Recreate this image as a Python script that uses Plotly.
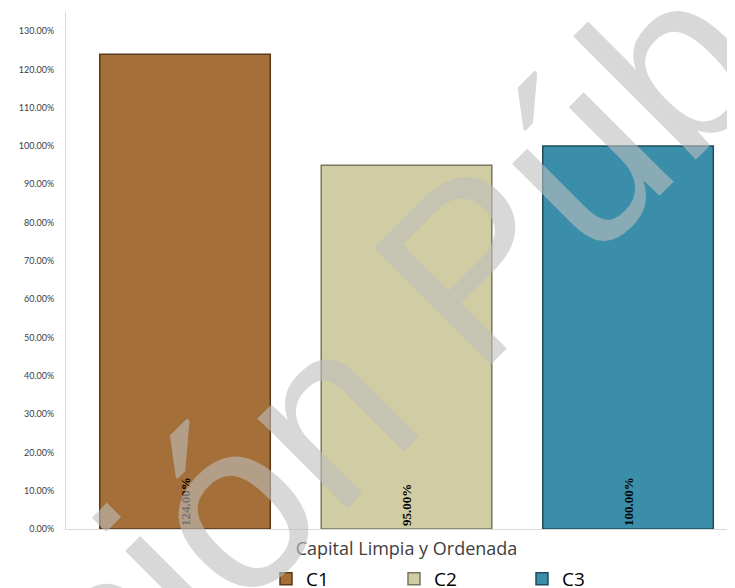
import plotly.graph_objects as go

category = ["Capital Limpia y Ordenada"]
series_names = ["C1", "C2", "C3"]
series_values = [1.24, 0.95, 1.00]
series_colors = ["#A46F38", "#D0CCA3", "#3A8EA9"]
series_edges = ["#5a3a1c", "#7a7660", "#1f4d5c"]
y_ticks = [i / 10 for i in range(14)]

fig = go.Figure()
for name, val, col, edge in zip(series_names, series_values, series_colors, series_edges):
    fig.add_trace(go.Bar(
        name=name, x=category, y=[val],
        marker=dict(color=col, line=dict(color=edge, width=1.5)),
        texttemplate="%{y:.2%}",
        textposition="inside", insidetextanchor="start", textangle=-90,
        textfont=dict(family="Liberation Serif", size=13, color="#000000", weight="bold"),
        constraintext="none",
    ))

# the page body adds an 8px offset; design in target-window pixel coordinates
OFF = 8
W, H = 735 - OFF, 588 - OFF
L, R, T, B = 66 - OFF, 0, 12 - OFF, 59
pw, ph = W - L - R, H - T - B

def px2paper(px, py):
    return (px - OFF - L) / pw, (H - B - (py - OFF)) / ph

wx, wy = px2paper(390, 348)

fig.update_layout(
    width=W, height=H,
    margin=dict(l=L, r=R, t=T, b=B, autoexpand=False),
    paper_bgcolor="white", plot_bgcolor="white",
    barmode="group", bargap=0.0067, bargroupgap=0.23,
    showlegend=True,
    legend=dict(orientation="h", x=px2paper(266, 0)[0], xanchor="left",
                y=px2paper(0, 560)[1], yanchor="top",
                font=dict(family="Open Sans", size=19, color="#000000"),
                entrywidth=83, entrywidthmode="pixels",
                tracegroupgap=0, borderwidth=0,
                bgcolor="rgba(0,0,0,0)"),
    xaxis=dict(range=[-0.509, 0.491], showline=True, linecolor="#d9d9d9", linewidth=1,
               showgrid=False, zeroline=False, ticks="", ticklabelstandoff=3,
               tickfont=dict(family="Open Sans", size=18, color="#404040")),
    yaxis=dict(range=[0, 1.35], tickvals=y_ticks, tickformat=".2%",
               showline=True, linecolor="#d9d9d9", linewidth=1,
               showgrid=False, zeroline=False, ticks="", ticklabelstandoff=9,
               tickfont=dict(family="Lato", size=9, color="#404040")),
    annotations=[dict(text="Versión Pública", xref="paper", yref="paper",
                      x=wx, y=wy, xanchor="center", yanchor="middle",
                      showarrow=False, textangle=-45,
                      font=dict(family="Liberation Sans", size=240,
                                color="rgba(190,190,190,0.6)"))],
)

fig.write_html("out.html")
